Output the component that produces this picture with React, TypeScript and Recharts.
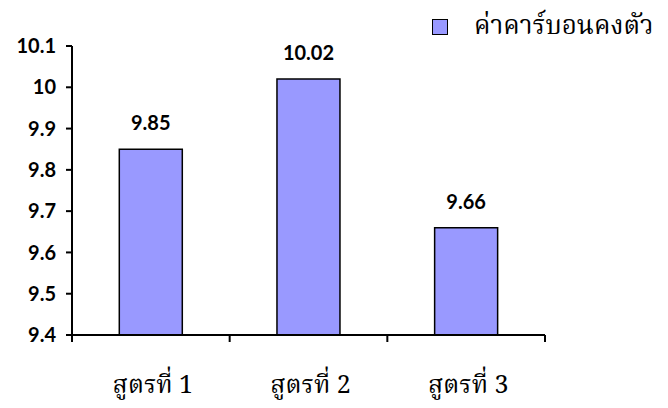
import React from 'react';
import { BarChart, Bar, XAxis, YAxis, LabelList, Legend } from 'recharts';

const formulas = ['สูตรที่ 1', 'สูตรที่ 2', 'สูตรที่ 3'];
const carbonValues = [9.85, 10.02, 9.66];
const yTicks = [9.4, 9.5, 9.6, 9.7, 9.8, 9.9, 10, 10.1];
const seriesName = 'ค่าคาร์บอนคงตัว';

const data = formulas.map((f, i) => ({ name: f, value: carbonValues[i] }));

const thaiFont = 'Norasi, Kinnari, "TH Sarabun New", "Noto Serif Thai", "Liberation Serif", serif';
const numFont = 'Lato, "Liberation Sans", sans-serif';

const fmt = (v: number) => String(Number(v.toFixed(2)));

function LegendBox(props: any) {
  const item = (props.payload || [])[0];
  return (
    <div style={{ display: 'flex', alignItems: 'center' }}>
      <span
        style={{
          display: 'inline-block',
          width: 14,
          height: 14,
          background: '#9999FF',
          border: '1.5px solid #000',
          marginRight: 26,
        }}
      />
      <span style={{ fontFamily: thaiFont, fontSize: 26, color: '#000' }}>
        {item ? item.value : seriesName}
      </span>
    </div>
  );
}

// category label plus tick marks on the band edges
function CatTick(props: any) {
  const { x, y, payload, index, visibleTicksCount } = props;
  const half = payload.offset || 0;
  const last = index === visibleTicksCount - 1;
  return (
    <g>
      <line x1={x - half} x2={x - half} y1={y - 8} y2={y - 1} stroke="#000" strokeWidth={2} />
      {last && <line x1={x + half} x2={x + half} y1={y - 8} y2={y - 1} stroke="#000" strokeWidth={2} />}
      <text x={x + 2} y={y + 50} textAnchor="middle" fill="#000" fontFamily={thaiFont} fontSize={25}>
        {payload.value}
      </text>
    </g>
  );
}

export default function App() {
  return (
    <div style={{ position: 'absolute', left: 0, top: 0, width: 668, height: 408, background: '#fff' }}>
      <BarChart
        width={668}
        height={408}
        data={data}
        margin={{ top: 46, right: 123, left: 12, bottom: 13 }}
        barCategoryGap="30%"
      >
        <XAxis
          dataKey="name"
          height={60}
          interval={0}
          axisLine={{ stroke: '#000', strokeWidth: 2 }}
          tickLine={false}
          tickSize={0}
          tickMargin={8}
          tick={<CatTick />}
        />
        <YAxis
          width={60}
          domain={[9.4, 10.1]}
          ticks={yTicks}
          interval={0}
          allowDataOverflow
          axisLine={{ stroke: '#000', strokeWidth: 2 }}
          tickLine={{ stroke: '#000', strokeWidth: 2 }}
          tickSize={6}
          tickMargin={10}
          tickFormatter={fmt}
          tick={{ fill: '#000', fontFamily: numFont, fontWeight: 700, fontSize: 20 }}
        />
        <Legend
          content={<LegendBox />}
          layout="horizontal"
          verticalAlign="middle"
          wrapperStyle={{ top: 6, left: 432, width: 236 }}
        />
        <Bar
          dataKey="value"
          name={seriesName}
          fill="#9999FF"
          stroke="#000"
          strokeWidth={1.5}
          isAnimationActive={false}
        >
          <LabelList
            dataKey="value"
            position="top"
            offset={19}
            formatter={(v: any) => fmt(Number(v))}
            style={{ fill: '#000', fontFamily: numFont, fontWeight: 700, fontSize: 20 }}
          />
        </Bar>
      </BarChart>
    </div>
  );
}
